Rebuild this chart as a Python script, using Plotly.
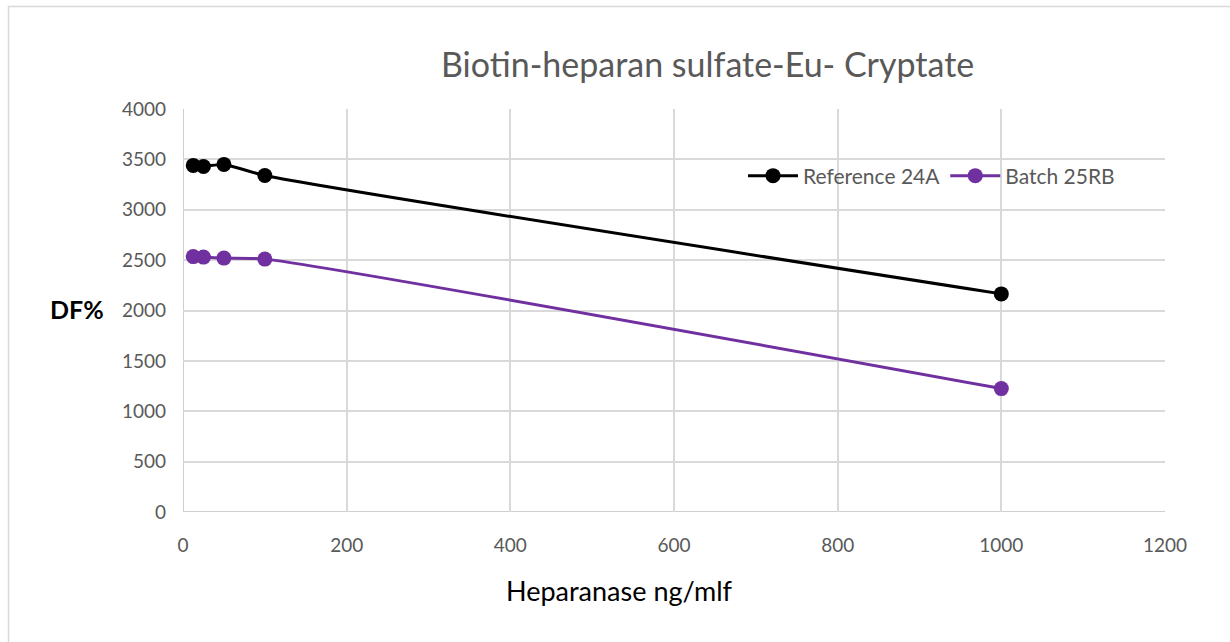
import plotly.graph_objects as go

x_vals = [12.5, 25, 50, 100, 1000]
ref_24a = [3440, 3430, 3450, 3340, 2165]
batch_25rb = [2535, 2530, 2520, 2510, 1225]

L, R, T, B = 183, 65, 109, 130
W, H = 1230, 642
pw, ph = W - L - R, H - T - B

def px(xp):
    return (xp - L) / pw

def py(yp):
    return (H - B - yp) / ph

fig = go.Figure()
fig.add_trace(go.Scatter(x=x_vals, y=ref_24a, name="Reference 24A", mode="lines+markers",
                         line=dict(color="#000000", width=3, shape="spline", smoothing=0.6),
                         marker=dict(size=15, color="#000000")))
fig.add_trace(go.Scatter(x=x_vals, y=batch_25rb, name="Batch 25RB", mode="lines+markers",
                         line=dict(color="#7030A0", width=3, shape="spline", smoothing=0.6),
                         marker=dict(size=15, color="#7030A0")))

font_family = "Lato, Open Sans, sans-serif"
fig.update_layout(
    width=W, height=H,
    margin=dict(l=L, r=R, t=T, b=B, autoexpand=False),
    paper_bgcolor="white", plot_bgcolor="white",
    font=dict(family=font_family, color="#595959", size=19),
    showlegend=True,
    legend=dict(orientation="h", x=px(743), y=py(176), xanchor="left", yanchor="middle",
                bgcolor="rgba(0,0,0,0)", font=dict(size=21, color="#595959"),
                itemwidth=50, traceorder="normal"),
    xaxis=dict(range=[0, 1200], dtick=200, tick0=0, showgrid=True, gridcolor="#D9D9D9", gridwidth=1.5,
               zeroline=False, showline=False, ticks="", ticklabelstandoff=20,
               tickfont=dict(size=19, color="#595959")),
    yaxis=dict(range=[0, 4000], dtick=500, tick0=0, showgrid=True, gridcolor="#D9D9D9", gridwidth=1.5,
               zeroline=False, showline=False, ticks="", ticklabelstandoff=16,
               tickfont=dict(size=19, color="#595959")),
)

# axis lines
fig.add_shape(type="line", xref="x", yref="paper", x0=0, x1=0, y0=0, y1=1,
              line=dict(color="#BFBFBF", width=1.5), layer="below")
fig.add_shape(type="line", xref="paper", yref="y", x0=0, x1=1, y0=0, y1=0,
              line=dict(color="#BFBFBF", width=1.5), layer="below")
# chart border
fig.add_shape(type="rect", xref="paper", yref="paper",
              x0=px(8.5), x1=px(1240), y0=py(6.5), y1=py(660),
              line=dict(color="#D9D9D9", width=1.5), fillcolor="rgba(0,0,0,0)", layer="below")

fig.add_annotation(text="Biotin-heparan sulfate-Eu- Cryptate", xref="paper", yref="paper",
                   x=px(707), y=py(63), showarrow=False, xanchor="center", yanchor="middle",
                   font=dict(size=34, color="#595959", family=font_family))
fig.add_annotation(text="Heparanase ng/mlf", xref="paper", yref="paper",
                   x=px(619), y=py(590), showarrow=False, xanchor="center", yanchor="middle",
                   font=dict(size=27, color="#000000", family=font_family))
fig.add_annotation(text="<b>DF%</b>", xref="paper", yref="paper",
                   x=px(77), y=py(309), showarrow=False, xanchor="center", yanchor="middle",
                   font=dict(size=25, color="#000000", family=font_family))

fig.write_html("out.html", config={"displayModeBar": False},
               post_script="document.body.style.margin='0';")
